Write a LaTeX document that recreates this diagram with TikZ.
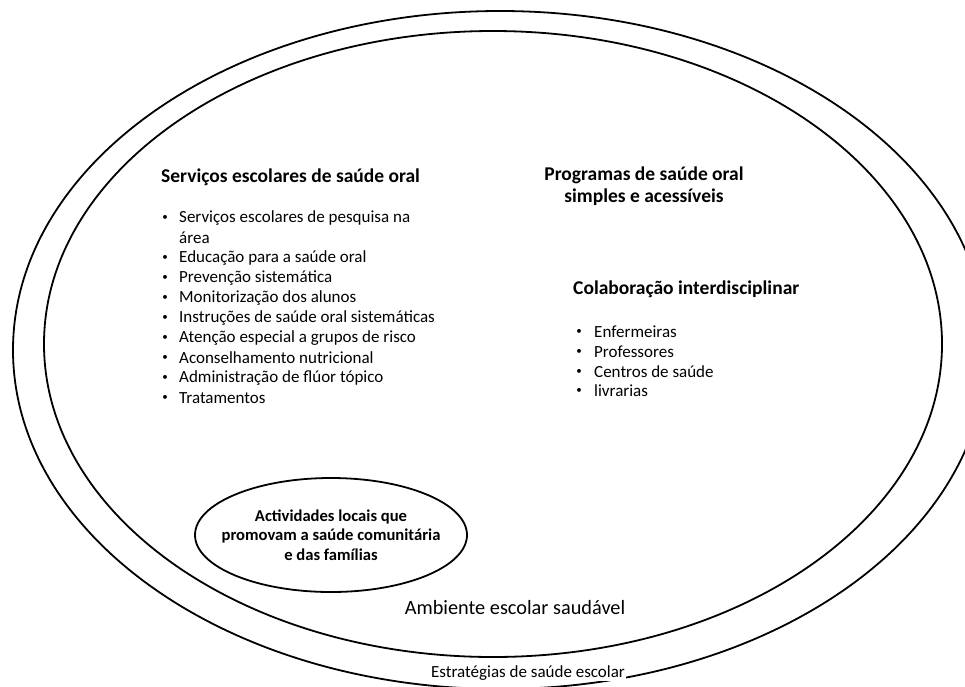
\documentclass[tikz,border=0pt]{standalone}
\usepackage{fontspec}
\setmainfont{Carlito}
\usetikzlibrary{shapes.geometric}

\tikzset{
  ring/.style={line width=1.8pt},
  head/.style={font=\fontsize{19.5}{22}\selectfont\bfseries, inner sep=0pt},
  item/.style={font=\fontsize{17}{20}\selectfont, inner sep=0pt, anchor=west},
  dot/.style={font=\fontsize{11}{13}\selectfont, inner sep=0pt},
}

\begin{document}
\begin{tikzpicture}[x=1pt,y=-1pt]

  \useasboundingbox (0,0) rectangle (965,686);
  \clip (0,0) rectangle (965,686);

  % the two big rings
  \draw[ring] (500,350) ellipse [x radius=487, y radius=339];
  \draw[ring] (493,344) ellipse [x radius=449, y radius=313];

  % small ring with text
  \node[draw, ellipse, ring, minimum width=272pt, minimum height=114pt, inner sep=0pt] (acts) at (331,535) {};
  \node[align=center, inner sep=0pt, font=\fontsize{16.6}{19.5}\selectfont\bfseries] (actstext) at (acts.center)
        {Actividades locais que\\promovam a saúde comunitária\\e das famílias};

  % left block
  \node[head, anchor=west] (servicos) at (161,177) {Serviços escolares de saúde oral};

  \begin{scope}[every node/.style={item}]
    \node (s1)  at (179,218) {Serviços escolares de pesquisa na};
    \node (s1b) at (179,238) {área};
    \node (s2)  at (179,258) {Educação para a saúde oral};
    \node (s3)  at (179,278) {Prevenção sistemática};
    \node (s4)  at (179,298) {Monitorização dos alunos};
    \node (s5)  at (179,318) {Instruções de saúde oral sistemáticas};
    \node (s6)  at (179,338) {Atenção especial a grupos de risco};
    \node (s7)  at (179,358) {Aconselhamento nutricional};
    \node (s8)  at (179,378) {Administração de flúor tópico};
    \node (s9)  at (179,398) {Tratamentos};
  \end{scope}

  \begin{scope}[every node/.style={dot}]
    \node (b1) at (165,218) {•};
    \node (b2) at (165,258) {•};
    \node (b3) at (165,278) {•};
    \node (b4) at (165,298) {•};
    \node (b5) at (165,318) {•};
    \node (b6) at (165,338) {•};
    \node (b7) at (165,358) {•};
    \node (b8) at (165,378) {•};
    \node (b9) at (165,398) {•};
  \end{scope}

  % right block
  \node[head, align=center] (programas) at (644,186)
        {Programas de saúde oral\\simples e acessíveis};

  \node[head, anchor=west] (colab) at (573,289) {Colaboração interdisciplinar};

  \begin{scope}[every node/.style={item}]
    \node (c1) at (594,332) {Enfermeiras};
    \node (c2) at (594,352) {Professores};
    \node (c3) at (594,372) {Centros de saúde};
    \node (c4) at (594,391) {livrarias};
  \end{scope}

  \begin{scope}[every node/.style={dot}]
    \node (d1) at (579,332) {•};
    \node (d2) at (579,352) {•};
    \node (d3) at (579,372) {•};
    \node (d4) at (579,391) {•};
  \end{scope}

  % ring labels
  \node[font=\fontsize{20.3}{22}\selectfont] (ambiente) at (515,608) {Ambiente escolar saudável};
  \node[font=\fontsize{17}{19}\selectfont, fill=white, inner sep=1pt] (estrategias) at (528,673) {Estratégias de saúde escolar};

\end{tikzpicture}
\end{document}
